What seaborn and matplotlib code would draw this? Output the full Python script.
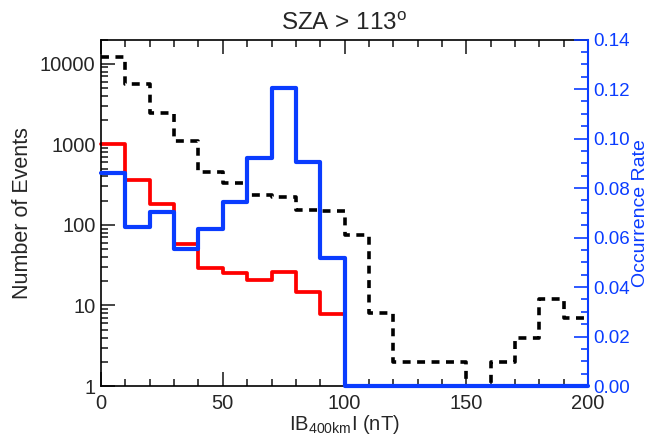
import matplotlib
matplotlib.use("Agg")
import matplotlib.pyplot as plt
from matplotlib.ticker import MultipleLocator, FixedLocator, LogLocator, FuncFormatter, NullFormatter
import numpy as np
import pandas as pd
import seaborn as sns

# 10 nT bins from 0 to 200 nT
bin_edges = np.arange(0, 201, 10)

# all events (black dashed, left axis)
all_counts = [12000, 5600, 2450, 1100, 460, 335, 234, 221, 155, 150,
              75, 8, 2, 2, 2, 1, 2, 4, 12, 7]
# selected events (red, left axis) - only first 10 bins non zero
sel_counts = [1000, 357, 183, 58, 29, 25.5, 21, 26, 14.5, 7.9]
# occurrence rate (blue, right axis)
occ_rate = [0.0862, 0.0644, 0.0704, 0.0552, 0.0635, 0.0745, 0.092, 0.1205, 0.0904, 0.0519,
            0.0, 0.0, 0.0, 0.0, 0.0, 0.0, 0.0, 0.0, 0.0, 0.0]

blue = "#0a3cff"
red = "#ff0000"


def step_frame(values):
    n = len(values)
    xs = list(bin_edges[:n + 1])
    ys = list(values) + [values[-1]]
    return pd.DataFrame({"x": xs, "y": ys})


sns.set_style("ticks")
plt.rcParams["font.family"] = ["Liberation Sans", "DejaVu Sans"]
plt.rcParams["mathtext.fontset"] = "custom"
plt.rcParams["mathtext.rm"] = "Liberation Sans"
plt.rcParams["mathtext.it"] = "Liberation Sans"

fig = plt.figure(figsize=(6.52, 4.38), dpi=100)
ax = fig.add_axes([0.155, 0.1187, 0.747, 0.791])
ax2 = ax.twinx()

sns.lineplot(data=step_frame(all_counts), x="x", y="y", ax=ax, color="black",
             drawstyle="steps-post", linewidth=2.6, linestyle=(0, (2.2, 1.8)),
             estimator=None, sort=False, clip_on=False)
sns.lineplot(data=step_frame(sel_counts), x="x", y="y", ax=ax, color=red,
             drawstyle="steps-post", linewidth=2.7,
             estimator=None, sort=False, clip_on=False)
sns.lineplot(data=step_frame(occ_rate), x="x", y="y", ax=ax2, color=blue,
             drawstyle="steps-post", linewidth=3.0,
             estimator=None, sort=False, clip_on=False)

fs = 14.5
ax.set_yscale("log")
ax.set_xlim(0, 200)
ax.set_ylim(1, 2e4)
ax.xaxis.set_major_locator(MultipleLocator(50))
ax.xaxis.set_minor_locator(MultipleLocator(10))
ax.yaxis.set_major_locator(FixedLocator([1, 10, 100, 1000, 10000]))
ax.yaxis.set_minor_locator(LogLocator(base=10, subs=np.arange(2, 10)))
ax.yaxis.set_major_formatter(FuncFormatter(lambda v, p: f"{v:g}"))
ax.yaxis.set_minor_formatter(NullFormatter())
ax.tick_params(which="major", direction="in", length=10, width=1.2,
               bottom=True, left=True, top=True, right=False, labelsize=fs, pad=6)
ax.tick_params(which="minor", direction="in", length=5, width=1.2,
               bottom=True, left=True, top=True, right=False)
ax.tick_params(axis="y", which="major", pad=4)
for s in ["left", "bottom", "top"]:
    ax.spines[s].set_linewidth(1.2)
    ax.spines[s].set_color("black")
ax.spines["right"].set_visible(False)
ax.set_xlabel(r"IB$_{\mathrm{400km}}$I (nT)", fontsize=14.5, labelpad=0)
ax.set_ylabel("Number of Events", fontsize=15.5, labelpad=5)
ax.set_title(r"SZA > 113$^{\mathrm{o}}$", fontsize=17.5, pad=7)

ax2.set_ylim(0, 0.14)
ax2.yaxis.set_major_locator(MultipleLocator(0.02))
ax2.yaxis.set_minor_locator(MultipleLocator(0.005))
ax2.yaxis.set_major_formatter(FuncFormatter(lambda v, p: f"{v:.2f}"))
ax2.tick_params(which="major", direction="in", length=10, width=1.2,
                right=True, left=False, colors=blue, labelsize=13.5, pad=4)
ax2.tick_params(which="minor", direction="in", length=5, width=1.2,
                right=True, left=False, colors=blue)
for s in ["left", "bottom", "top"]:
    ax2.spines[s].set_visible(False)
ax2.spines["right"].set_color(blue)
ax2.spines["right"].set_linewidth(1.5)
ax2.set_ylabel("Occurrence Rate", fontsize=14, color=blue, labelpad=1)

fig.savefig("out.png", dpi=100)
